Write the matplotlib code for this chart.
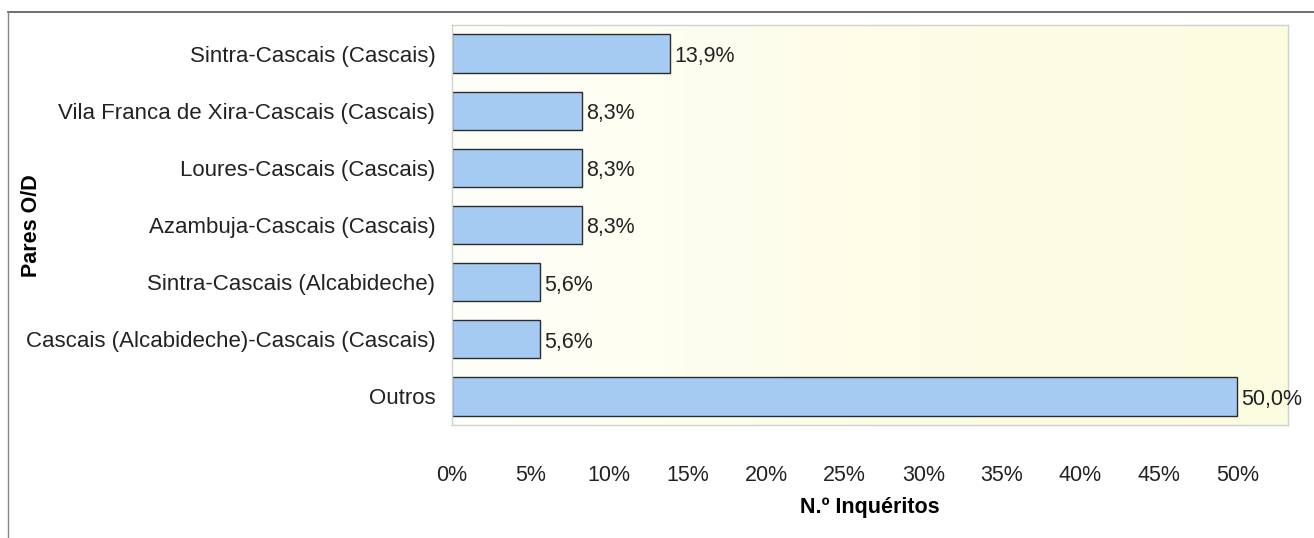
import numpy as np
import matplotlib
matplotlib.use("Agg")
from matplotlib import pyplot as plt
from matplotlib.lines import Line2D
from matplotlib.colors import LinearSegmentedColormap

plt.rcParams['font.family'] = ['Liberation Sans', 'DejaVu Sans']

# dados
pares = ["Sintra-Cascais (Cascais)",
         "Vila Franca de Xira-Cascais (Cascais)",
         "Loures-Cascais (Cascais)",
         "Azambuja-Cascais (Cascais)",
         "Sintra-Cascais (Alcabideche)",
         "Cascais (Alcabideche)-Cascais (Cascais)",
         "Outros"]
valores = [13.9, 8.3, 8.3, 8.3, 5.6, 5.6, 50.0]
ticks = [0, 5, 10, 15, 20, 25, 30, 35, 40, 45, 50]

fig = plt.figure(figsize=(13.14, 5.38), dpi=100)
ax = fig.add_axes([0.344, 0.21, 0.636, 0.7435])

# fundo em gradiente (branco -> amarelo claro)
cmap = LinearSegmentedColormap.from_list("fundo", ["#fffffa", "#fdfde8", "#fcfce0"])
grad = np.linspace(0, 1, 256).reshape(1, -1)
ax.imshow(grad, cmap=cmap, aspect="auto", extent=[0, 53.2, -0.5, 6.5], zorder=0)

y = np.arange(len(pares))
ax.barh(y, valores, height=0.67, color="#a6cbf2", edgecolor="#2b2b2b", linewidth=1.0, zorder=2)
for yi, v in zip(y, valores):
    ax.text(v + 0.25, yi + 0.05, ("%.1f%%" % v).replace(".", ","), va="center", ha="left",
            fontsize=15.5, color="#222222", zorder=3)

ax.set_xlim(0, 53.2)
ax.set_ylim(6.5, -0.5)
ax.set_yticks(y)
ax.set_yticklabels(pares, fontsize=16, color="#222222")
ax.set_xticks(ticks)
ax.set_xticklabels(["%d%%" % t for t in ticks], fontsize=15.5, color="#222222")
ax.tick_params(axis="both", length=0)
ax.tick_params(axis="y", pad=12)
ax.tick_params(axis="x", pad=29)
for s in ax.spines.values():
    s.set_color("#d0d0d0")
    s.set_linewidth(1.0)

ax.set_xlabel("N.º Inquéritos", fontsize=15.5, fontweight="bold", labelpad=8)
fig.text(0.024, 0.58, "Pares O/D", rotation=90, fontsize=15.5, fontweight="bold",
         ha="center", va="center")

# moldura exterior
fig.add_artist(Line2D([0.006, 1.0], [0.978, 0.978], color="#555555", lw=1.2))
fig.add_artist(Line2D([0.006, 0.006], [0.0, 0.978], color="#888888", lw=1.0))

plt.savefig("out.png", dpi=100)
